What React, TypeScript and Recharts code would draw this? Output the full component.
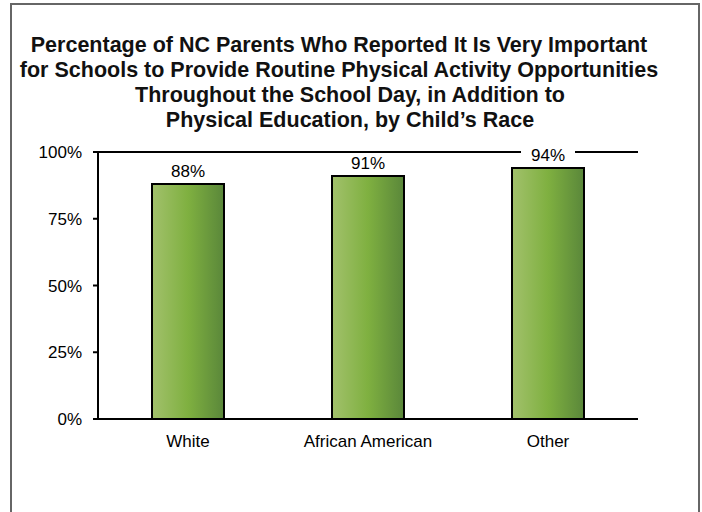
import { Bar, BarChart, LabelList, ReferenceLine, XAxis, YAxis } from "recharts";

const races = ["White", "African American", "Other"];
const veryImportant = [88, 91, 94];
const pctTicks = [0, 25, 50, 75, 100];
const edgeTicks = [0, 1, 2, 3];
const titleLines = [
  "Percentage of NC Parents Who Reported It Is Very Important",
  "for Schools to Provide Routine Physical Activity Opportunities",
  "Throughout the School Day, in Addition to",
  "Physical Education, by Child\u2019s Race",
];

const data = races.map((race, i) => ({ race, value: veryImportant[i] }));

const FONT = "'Liberation Sans', Arial, sans-serif";

const PctLabel = (props: any) => {
  const { x, y, width, value } = props;
  const cx = x + width / 2;
  return (
    <g>
      <rect x={cx - 27} y={y - 22} width={54} height={18} fill="#fff" />
      <text x={cx} y={y - 7} textAnchor="middle" fontSize={17} fontFamily={FONT} fill="#000">
        {value}%
      </text>
    </g>
  );
};

export default function App() {
  return (
    <div style={{ position: "absolute", left: 0, top: 0, width: 702, height: 512, background: "#fff", fontFamily: FONT }}>
      <div
        style={{
          position: "absolute",
          left: 10,
          top: 3,
          width: 690,
          height: 520,
          border: "2px solid #666",
          boxSizing: "border-box",
        }}
      />
      <div
        style={{
          position: "absolute",
          left: 0,
          top: 33,
          width: 678,
          textAlign: "center",
          fontWeight: "bold",
          fontSize: 21.5,
          lineHeight: "25px",
          color: "#111",
          whiteSpace: "nowrap",
        }}
      >
        {titleLines.map((t, i) => (
          <div key={t} style={{ paddingLeft: i >= 2 ? 22 : 0 }}>
            {t}
          </div>
        ))}
      </div>
      <div style={{ position: "absolute", left: 0, top: 0 }}>
        <BarChart
          width={702}
          height={512}
          data={data}
          margin={{ top: 152, right: 64, bottom: 63, left: 0 }}
          barCategoryGap="30%"
        >
          <defs>
            <linearGradient id="greenBar" x1="0" y1="0" x2="1" y2="0">
              <stop offset="0%" stopColor="#a2c16c" />
              <stop offset="50%" stopColor="#7fb040" />
              <stop offset="100%" stopColor="#5a873a" />
            </linearGradient>
          </defs>
          <XAxis
            xAxisId="edges"
            type="number"
            domain={[0, 3]}
            ticks={edgeTicks}
            height={0}
            tick={false}
            axisLine={false}
            tickSize={5}
            tickLine={{ stroke: "#000", strokeWidth: 2 }}
          />
          <XAxis
            dataKey="race"
            height={30}
            tickLine={false}
            axisLine={{ stroke: "#000", strokeWidth: 2 }}
            tickSize={5}
            tickMargin={11}
            tick={{ fill: "#000", fontSize: 17, fontFamily: FONT }}
            interval={0}
          />
          <YAxis
            width={98}
            domain={[0, 100]}
            ticks={pctTicks}
            tickFormatter={(v) => `${v}%`}
            axisLine={{ stroke: "#000", strokeWidth: 2 }}
            tickLine={{ stroke: "#000", strokeWidth: 2 }}
            tickSize={5}
            tickMargin={11}
            tick={{ fill: "#000", fontSize: 17, fontFamily: FONT }}
          />
          <YAxis
            yAxisId="right"
            orientation="right"
            width={0}
            domain={[0, 100]}
            tick={false}
            tickLine={false}
            axisLine={{ stroke: "#000", strokeWidth: 2 }}
          />
          <ReferenceLine y={100} stroke="#000" strokeWidth={2} />
          <Bar dataKey="value" fill="url(#greenBar)" stroke="#000" strokeWidth={2} isAnimationActive={false}>
            <LabelList dataKey="value" content={PctLabel} />
          </Bar>
        </BarChart>
      </div>
    </div>
  );
}
